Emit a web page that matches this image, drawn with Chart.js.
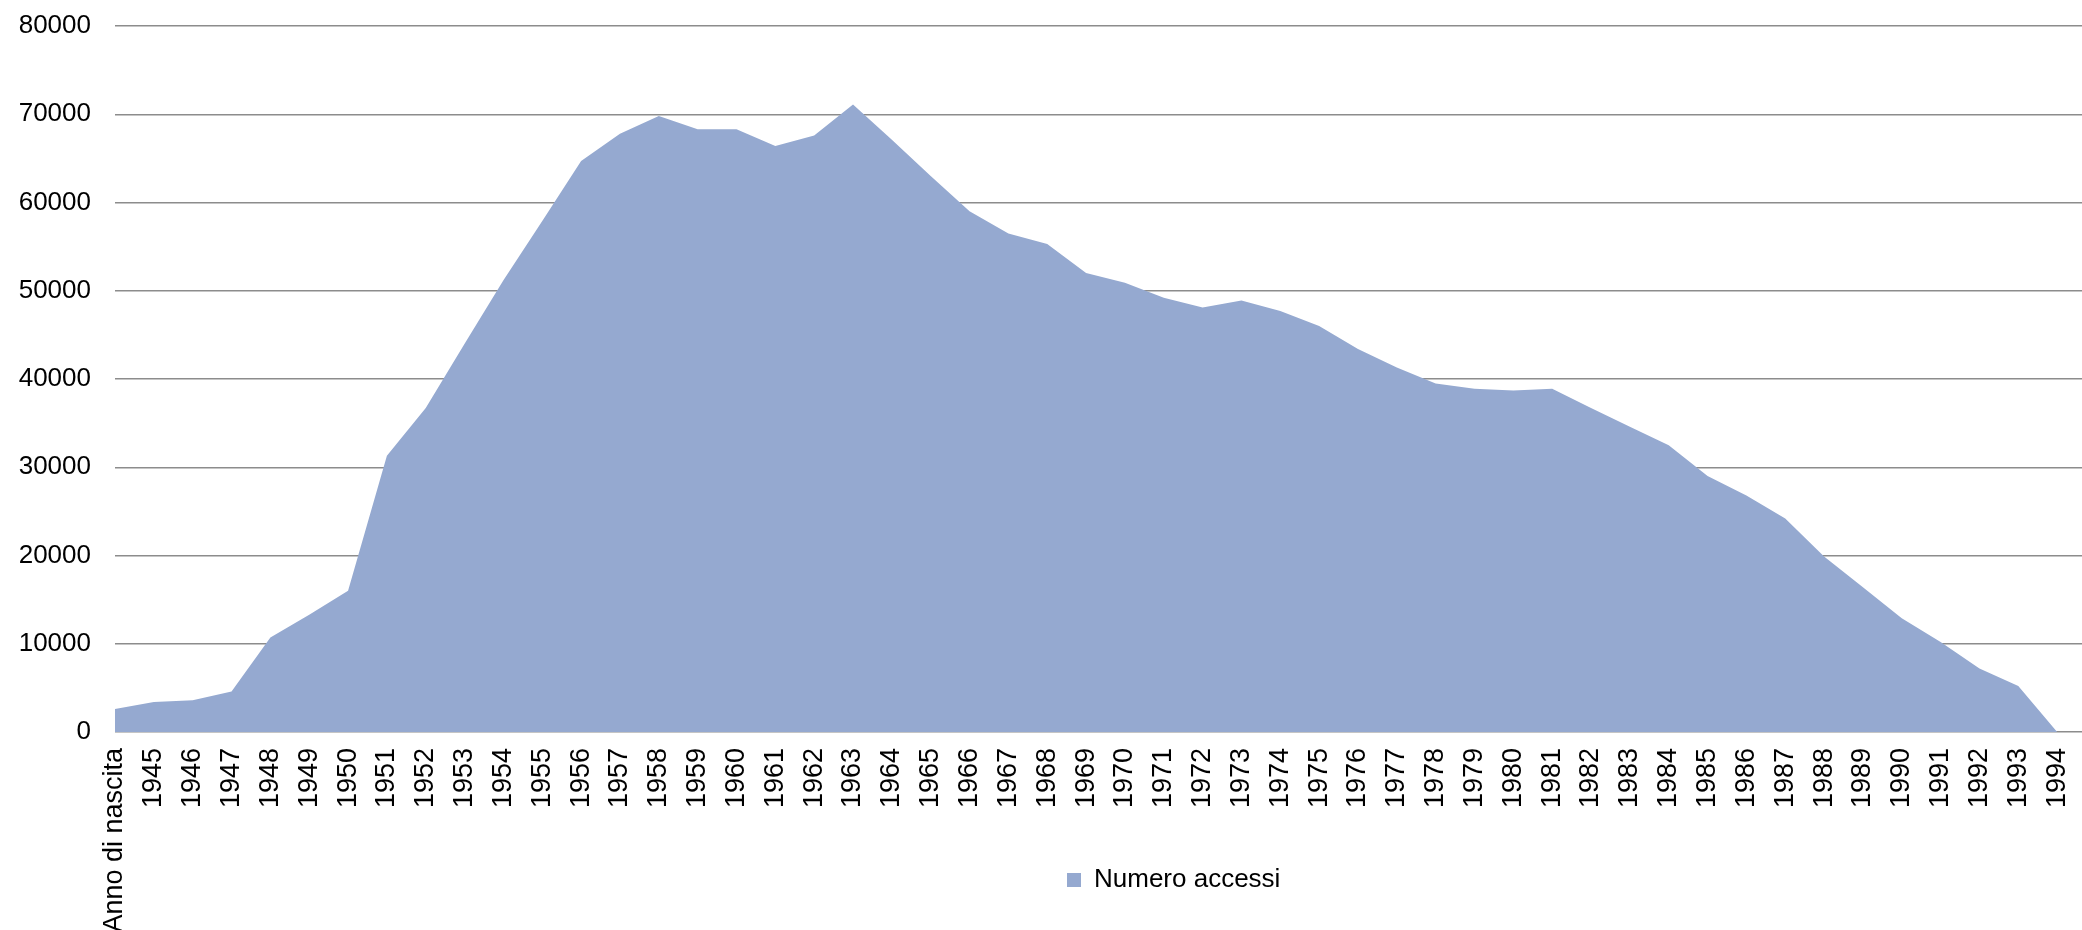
<!DOCTYPE html>
<html>
<head>
<meta charset="utf-8">
<script src="https://cdn.jsdelivr.net/npm/chart.js@4.4.1/dist/chart.umd.min.js"></script>
<style>
    html, body { margin: 0; padding: 0; background: #FFFFFF; }
    #wrap { width: 2082px; height: 930px; }
</style>
</head>
<body>
<div id="wrap"><canvas id="access_chart" width="2082" height="930"></canvas></div>
<script>
var categories = ['Anno di nascita', '1945', '1946', '1947', '1948', '1949', '1950', '1951', '1952', '1953', '1954',
    '1955', '1956', '1957', '1958', '1959', '1960', '1961', '1962', '1963', '1964', '1965', '1966', '1967', '1968',
    '1969', '1970', '1971', '1972', '1973', '1974', '1975', '1976', '1977', '1978', '1979', '1980', '1981', '1982',
    '1983', '1984', '1985', '1986', '1987', '1988', '1989', '1990', '1991', '1992', '1993', '1994'];

var accessValues = [2600, 3400, 3600, 4600, 10700, 13300, 16000, 31300, 36700, 44000, 51200,
    57900, 64700, 67800, 69800, 68300, 68300, 66400, 67600, 71100, 67100, 63000, 59000, 56500, 55300,
    52000, 50900, 49200, 48100, 48900, 47700, 46000, 43400, 41300, 39500, 38900, 38700, 38900, 36700,
    34600, 32500, 29000, 26800, 24200, 19900, 16400, 12900, 10200, 7200, 5200, 0];

var yTicks = [0, 10000, 20000, 30000, 40000, 50000, 60000, 70000, 80000];

var seriesName = 'Numero accessi';

// legend sits next to the long first label, under the plot
var moveLegend = {
    id: 'moveLegend',
    afterLayout: function(chart) {
        var lg = chart.legend;
        var w = lg.right - lg.left;
        lg.top = 857;
        lg.bottom = 857 + 60;
        lg.left = 1057;
        lg.right = 1057 + w;
    }
};

var fontFamily = '"Liberation Sans", Arial, sans-serif';

new Chart(document.getElementById('access_chart'), {
    type: 'line',
    data: {
        labels: categories,
        datasets: [
            {
                label: seriesName,
                data: accessValues,
                fill: 'origin',
                backgroundColor: '#95A9D0',
                borderColor: '#95A9D0',
                borderWidth: 0,
                pointRadius: 0,
                tension: 0
            }
        ]
    },
    options: {
        responsive: false,
        animation: false,
        layout: {
            padding: { top: 26, right: 0, bottom: 0, left: 0 }
        },
        plugins: {
            tooltip: { enabled: false },
            legend: {
                position: 'chartArea',
                align: 'start',
                labels: {
                    color: '#000000',
                    boxWidth: 14,
                    boxHeight: 14,
                    font: { size: 26, family: fontFamily }
                }
            }
        },
        scales: {
            x: {
                offset: false,
                // the plot runs a little past the last year
                afterBuildTicks: function(scale) {
                    scale._valueRange += 0.64;
                },
                afterFit: function(scale) {
                    scale.height = 198;
                    scale.paddingLeft = 0;
                    scale.paddingRight = 0;
                },
                grid: { display: false, drawTicks: false },
                border: { display: false },
                ticks: {
                    autoSkip: false,
                    maxRotation: 90,
                    minRotation: 90,
                    padding: 16,
                    color: '#000000',
                    font: { size: 27, family: fontFamily }
                }
            },
            y: {
                min: 0,
                max: 80000,
                afterBuildTicks: function(scale) {
                    scale.ticks = yTicks.map(function(v) { return { value: v }; });
                },
                afterFit: function(scale) {
                    scale.width = 115;
                    scale.paddingTop = 0;
                    scale.paddingBottom = 0;
                },
                grid: {
                    color: '#8C8C8C',
                    lineWidth: 1.5,
                    drawTicks: false
                },
                border: { display: false },
                ticks: {
                    padding: 24,
                    color: '#000000',
                    font: { size: 26, family: fontFamily },
                    callback: function(value) { return String(value); }
                }
            }
        }
    },
    plugins: [moveLegend]
});
</script>
</body>
</html>
